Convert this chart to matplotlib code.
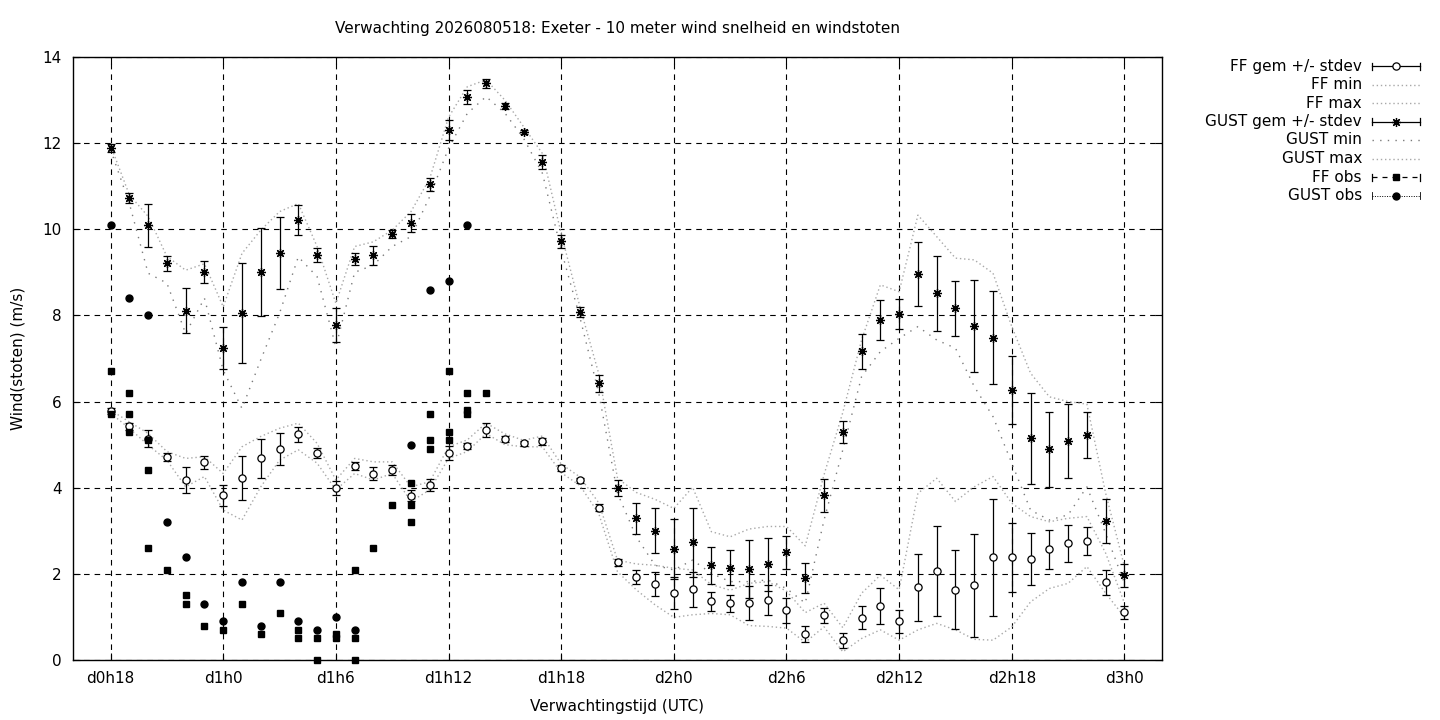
import matplotlib
matplotlib.use('Agg')
import matplotlib.pyplot as plt
from matplotlib.lines import Line2D
from matplotlib.transforms import Affine2D

# ---------------- data ----------------
hours = list(range(18, 73))

ff_mean = [5.77, 5.43, 5.14, 4.71, 4.18, 4.59, 3.82, 4.22, 4.68, 4.89, 5.24, 4.80, 3.99, 4.50,
           4.33, 4.41, 3.81, 4.06, 4.81, 4.96, 5.34, 5.13, 5.03, 5.08, 4.45, 4.17, 3.54, 2.27,
           1.93, 1.76, 1.55, 1.64, 1.36, 1.32, 1.32, 1.39, 1.15, 0.60, 1.04, 0.46, 0.98, 1.25,
           0.90, 1.69, 2.07, 1.63, 1.73, 2.38, 2.38, 2.34, 2.57, 2.71, 2.76, 1.80, 1.11]
ff_sd = [0.07, 0.08, 0.20, 0.10, 0.30, 0.15, 0.24, 0.51, 0.45, 0.37, 0.18, 0.12, 0.17, 0.10,
         0.14, 0.12, 0.13, 0.14, 0.16, 0.07, 0.16, 0.08, 0.06, 0.08, 0.07, 0.06, 0.08, 0.08,
         0.17, 0.28, 0.37, 0.41, 0.22, 0.20, 0.40, 0.35, 0.29, 0.19, 0.17, 0.17, 0.27, 0.42,
         0.27, 0.78, 1.05, 0.92, 1.20, 1.35, 0.79, 0.60, 0.45, 0.43, 0.33, 0.30, 0.15]
ff_min = [5.73, 5.38, 4.99, 4.64, 4.02, 4.26, 3.48, 3.25, 4.02, 4.64, 4.88, 4.57, 3.95, 4.33,
          4.18, 4.33, 3.68, 3.95, 4.68, 4.84, 5.26, 5.00, 4.95, 4.95, 4.35, 4.05, 3.40, 2.05,
          1.63, 1.28, 0.99, 1.05, 1.08, 1.05, 0.80, 0.78, 0.74, 0.41, 0.77, 0.19, 0.50, 0.70,
          0.46, 0.70, 0.85, 0.70, 0.48, 0.46, 0.77, 1.35, 1.66, 1.78, 2.17, 1.55, 1.00]
ff_max = [5.80, 5.53, 5.26, 4.84, 4.68, 4.72, 4.33, 4.95, 5.19, 5.38, 5.50, 5.03, 4.18, 4.68,
          4.60, 4.60, 4.02, 4.14, 4.95, 5.11, 5.50, 5.25, 5.10, 5.20, 4.55, 4.25, 3.65, 2.32,
          2.23, 2.20, 2.13, 2.09, 1.75, 1.62, 1.78, 1.82, 1.60, 1.10, 1.32, 0.75, 1.55, 1.97,
          1.63, 3.87, 4.22, 3.68, 4.02, 4.26, 3.64, 3.33, 3.21, 3.29, 3.33, 2.48, 1.32]

gust_mean = [11.89, 10.73, 10.09, 9.21, 8.11, 9.01, 7.25, 8.06, 9.01, 9.45, 10.21, 9.40, 7.78, 9.31,
             9.40, 9.89, 10.14, 11.04, 12.30, 13.07, 13.39, 12.87, 12.26, 11.56, 9.72, 8.07, 6.42, 3.99,
             3.29, 3.00, 2.58, 2.73, 2.20, 2.14, 2.11, 2.22, 2.50, 1.91, 3.82, 5.29, 7.17, 7.89,
             8.03, 8.96, 8.51, 8.17, 7.75, 7.48, 6.26, 5.15, 4.89, 5.08, 5.23, 3.23, 1.97]
gust_sd = [0.085, 0.12, 0.50, 0.17, 0.52, 0.25, 0.49, 1.16, 1.03, 0.84, 0.35, 0.17, 0.40, 0.15,
           0.22, 0.10, 0.21, 0.155, 0.23, 0.155, 0.10, 0.07, 0.05, 0.16, 0.155, 0.115, 0.20, 0.18,
           0.36, 0.52, 0.69, 0.81, 0.43, 0.41, 0.67, 0.61, 0.38, 0.35, 0.38, 0.25, 0.41, 0.47,
           0.35, 0.75, 0.88, 0.64, 1.07, 1.08, 0.79, 1.06, 0.87, 0.86, 0.53, 0.51, 0.27]
gust_min = [11.85, 10.60, 8.98, 8.75, 7.58, 8.40, 6.73, 5.84, 6.97, 8.05, 9.36, 8.90, 7.27, 9.00,
            9.17, 9.60, 9.83, 10.76, 11.88, 12.69, 13.08, 12.70, 12.11, 11.30, 9.52, 7.95, 6.20, 3.87,
            2.86, 2.20, 2.09, 2.32, 2.01, 1.82, 1.82, 1.86, 1.66, 1.32, 3.25, 4.88, 6.58, 7.16,
            7.47, 7.74, 7.43, 7.24, 6.35, 5.65, 4.57, 3.48, 3.25, 3.37, 4.02, 2.94, 1.78]
gust_max = [11.95, 10.80, 10.30, 9.37, 9.05, 9.20, 8.20, 9.44, 9.98, 10.41, 10.60, 9.60, 8.28, 9.60,
            9.71, 9.98, 10.41, 11.18, 12.60, 13.31, 13.47, 13.00, 12.38, 11.76, 9.90, 8.20, 6.65, 4.22,
            3.89, 3.73, 3.52, 4.01, 2.98, 2.86, 3.04, 3.10, 3.10, 2.65, 4.30, 5.75, 7.43, 8.71,
            8.55, 10.33, 9.83, 9.33, 9.29, 8.98, 7.74, 6.66, 6.11, 6.00, 5.94, 3.87, 2.17]

ff_obs_hour = [18, 18, 19, 19, 19, 20, 20, 20, 21, 22, 22, 23, 24, 25, 26, 27, 28, 28, 29, 29,
               30, 30, 31, 31, 31, 32, 33, 34, 34, 34, 35, 35, 35, 36, 36, 36, 37, 37, 37, 38]
ff_obs_val = [6.7, 5.7, 6.2, 5.7, 5.3, 5.1, 4.4, 2.6, 2.1, 1.5, 1.3, 0.8, 0.7, 1.3, 0.6, 1.1, 0.7, 0.5, 0.5, 0.0,
              0.6, 0.5, 2.1, 0.5, 0.0, 2.6, 3.6, 4.1, 3.6, 3.2, 5.7, 5.1, 4.9, 6.7, 5.3, 5.1, 6.2, 5.8, 5.7, 6.2]
gust_obs_hour = [18, 19, 20, 21, 22, 23, 24, 25, 26, 27, 28, 29, 30, 31, 34, 35, 36, 37]
gust_obs_val = [10.1, 8.4, 8.0, 3.2, 2.4, 1.3, 0.9, 1.8, 0.8, 1.8, 0.9, 0.7, 1.0, 0.7, 5.0, 8.6, 8.8, 10.1]

xtick_pos = [18, 24, 30, 36, 42, 48, 54, 60, 66, 72]
xtick_labels = ['d0h18', 'd1h0', 'd1h6', 'd1h12', 'd1h18', 'd2h0', 'd2h6', 'd2h12', 'd2h18', 'd3h0']
ytick_pos = [0, 2, 4, 6, 8, 10, 12, 14]

title = 'Verwachting 2026080518: Exeter - 10 meter wind snelheid en windstoten'
legend_labels = ['FF gem +/- stdev', 'FF min', 'FF max', 'GUST gem +/- stdev',
                 'GUST min', 'GUST max', 'FF obs', 'GUST obs']

# ---------------- styles ----------------
W, H = 1440, 720
plt.rcParams['font.family'] = ['DejaVu Sans']
light = '#a8a8a8'
darkg = '#7a7a7a'
dense_dot = (0, (1, 2))
sparse_dot = (0, (1, 4.5))
STAR = (8, 2, 0)

fig = plt.figure(figsize=(W / 100, H / 100), dpi=100)
ax = fig.add_axes([73 / W, 1 - 660 / H, (1162 - 73) / W, (660 - 57) / H])

ax.plot(hours, ff_min, color=light, ls=dense_dot, lw=1.0, zorder=1)
ax.plot(hours, ff_max, color=light, ls=dense_dot, lw=1.0, zorder=1)
ax.plot(hours, gust_min, color=darkg, ls=sparse_dot, lw=1.0, zorder=1)
ax.plot(hours, gust_max, color=light, ls=dense_dot, lw=1.0, zorder=1)

ax.errorbar(hours, ff_mean, yerr=ff_sd, fmt='none', ecolor='black', elinewidth=0.9,
            capsize=2.8, capthick=0.9, zorder=3)
ax.plot(hours, ff_mean, ls='none', marker='o', ms=5.2, mfc='white', mec='black', mew=0.9, zorder=4)
ax.errorbar(hours, gust_mean, yerr=gust_sd, fmt='none', ecolor='black', elinewidth=0.9,
            capsize=2.8, capthick=0.9, zorder=3)
ax.plot(hours, gust_mean, ls='none', marker=STAR, ms=6.5, color='black', mew=0.9, zorder=4)

ax.plot(ff_obs_hour, ff_obs_val, ls='none', marker='s', ms=4.8, color='black', zorder=5,
        clip_on=False)
ax.plot(gust_obs_hour, gust_obs_val, ls='none', marker='o', ms=5, color='black', zorder=5)

ax.set_xlim(16, 74)
ax.set_ylim(0, 14)
ax.set_xticks(xtick_pos)
ax.set_xticklabels(xtick_labels)
ax.set_yticks(ytick_pos)
ax.tick_params(direction='in', top=True, right=True, length=5, width=0.8,
               labelsize=11, pad=8)
ax.grid(True, color='black', ls=(0, (5, 4.5)), lw=0.8)
ax.set_axisbelow(True)
for s in ax.spines.values():
    s.set_linewidth(1.0)

fig.text(617.5 / W, 1 - 29 / H, title, ha='center', va='center', fontsize=11)
fig.text(617.5 / W, 1 - 706 / H, 'Verwachtingstijd (UTC)', ha='center', va='center', fontsize=11)
fig.text(18 / W, 1 - 358 / H, 'Wind(stoten) (m/s)', ha='center', va='center', rotation=90,
         fontsize=11)

# ---------------- legend (drawn in pixel coordinates) ----------------
T = Affine2D().scale(1 / W, -1 / H).translate(0, 1) + fig.transFigure
row_y = [66, 84.5, 103, 121.5, 140, 158.5, 177, 195.5]
x0, x1, xm = 1372, 1420, 1396


def sample_line(y, **kw):
    fig.add_artist(Line2D([x0, x1], [y, y], transform=T, **kw))


def caps(y, lw=0.9):
    for xx in (x0, x1):
        fig.add_artist(Line2D([xx, xx], [y - 3.5, y + 3.5], transform=T, color='black', lw=lw))


for lab, y in zip(legend_labels, row_y):
    fig.text(1362 / W, 1 - y / H, lab, ha='right', va='center', fontsize=11)

# FF gem
sample_line(row_y[0], color='black', lw=0.9)
caps(row_y[0])
fig.add_artist(Line2D([xm], [row_y[0]], transform=T, ls='none', marker='o', ms=5.2,
                      mfc='white', mec='black', mew=0.9))
sample_line(row_y[1], color=light, ls=dense_dot, lw=1.0)
sample_line(row_y[2], color=light, ls=dense_dot, lw=1.0)
# GUST gem
sample_line(row_y[3], color='black', lw=0.9)
caps(row_y[3])
fig.add_artist(Line2D([xm], [row_y[3]], transform=T, ls='none', marker=STAR, ms=6.5,
                      color='black', mew=0.9))
sample_line(row_y[4], color=darkg, ls=sparse_dot, lw=1.0)
sample_line(row_y[5], color=light, ls=dense_dot, lw=1.0)
# FF obs
sample_line(row_y[6], color='black', ls=(0, (4, 4)), lw=0.9)
caps(row_y[6])
fig.add_artist(Line2D([xm], [row_y[6]], transform=T, ls='none', marker='s', ms=4.8, color='black'))
# GUST obs
sample_line(row_y[7], color='black', ls=(0, (1, 1.5)), lw=0.7)
caps(row_y[7], lw=0.6)
fig.add_artist(Line2D([xm], [row_y[7]], transform=T, ls='none', marker='o', ms=5, color='black'))

fig.savefig('out.png', dpi=100)
